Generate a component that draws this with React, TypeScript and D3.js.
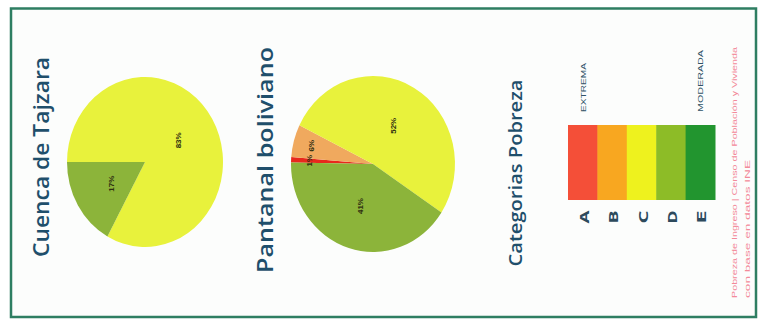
import React from "react";
import * as d3 from "d3";

// ---- data ----
const pieTitles = ["Cuenca de Tajzara", "Pantanal boliviano"];
const tajzaraCategories = ["C", "D"];
const tajzaraValues = [83, 17];
const pantanalCategories = ["A", "B", "C", "D"];
const pantanalValues = [1, 6, 52, 41];
const legendTitle = "Categorias Pobreza";
const legendCategories = ["A", "B", "C", "D", "E"];
const legendEnds = ["EXTREMA", "MODERADA"];
const footnoteLines = [
  "Pobreza de Ingreso | Censo de Población y Vivienda",
  "con base en datos INE",
];

const pieColors: Record<string, string> = {
  A: "#e8281c",
  B: "#f0a95e",
  C: "#e8f23c",
  D: "#8cb43a",
};
const legendColors: Record<string, string> = {
  A: "#f44f38",
  B: "#f8a720",
  C: "#eef21e",
  D: "#8dbc27",
  E: "#22952f",
};

const W = 765;
const H = 321;
const R = 80;
const FONT = "'Open Sans', 'Liberation Sans', Arial, sans-serif";
const TITLE_COLOR = "#1f4f6b";

type Datum = { c: string; v: number };

function Pie({
  cats,
  vals,
  cx,
  cy,
  rx,
  ry,
  start,
}: {
  cats: string[];
  vals: number[];
  cx: number;
  cy: number;
  rx: number;
  ry: number;
  start: number;
}) {
  const data: Datum[] = cats.map((c, i) => ({ c, v: vals[i] }));
  const pie = d3
    .pie<Datum>()
    .value((d) => d.v)
    .sort(null)
    .startAngle(start)
    .endAngle(start + 2 * Math.PI);
  const arcs = pie(data);
  const arc = d3.arc<d3.PieArcDatum<Datum>>().innerRadius(0).outerRadius(R);
  const sx = rx / R;
  const sy = ry / R;
  return (
    <g>
      <g transform={`translate(${cx},${cy}) scale(${sx},${sy})`}>
        {arcs.map((a) => (
          <path key={a.data.c} d={arc(a) || ""} fill={pieColors[a.data.c]} />
        ))}
      </g>
      {arcs.map((a) => {
        const frac = a.data.v < 10 ? 0.78 : 0.5;
        const lr = R * frac;
        const mid = (a.startAngle + a.endAngle) / 2;
        const px = cx + Math.sin(mid) * lr * sx;
        const py = cy - Math.cos(mid) * lr * sy;
        return (
          <text
            key={"l" + a.data.c}
            transform={`translate(${px},${py}) rotate(-90)`}
            textAnchor="middle"
            dominantBaseline="central"
            fontFamily="'Liberation Sans', Arial, sans-serif"
            fontWeight="bold"
            fontSize={8}
            fill="#2e2e10"
          >
            {`${a.data.v}%`}
          </text>
        );
      })}
    </g>
  );
}

function RotText({
  x,
  y,
  text,
  size,
  len,
  anchor = "middle",
  fill = TITLE_COLOR,
  weight = "normal",
  baseline,
  family = FONT,
}: {
  x: number;
  y: number;
  text: string;
  size: number;
  len?: number;
  anchor?: string;
  fill?: string;
  weight?: string | number;
  baseline?: string;
  family?: string;
}) {
  return (
    <text
      transform={`translate(${x},${y}) rotate(-90)`}
      textAnchor={anchor}
      dominantBaseline={baseline}
      fontFamily={family}
      fontSize={size}
      fontWeight={weight}
      fill={fill}
      textLength={len}
      lengthAdjust={len ? "spacingAndGlyphs" : undefined}
    >
      {text}
    </text>
  );
}

export default function App() {
  const band = d3.scaleBand<string>().domain(legendCategories).range([568, 715]).padding(0);
  return (
    <svg
      width={W}
      height={H}
      style={{ position: "absolute", left: 0, top: 0, background: "#ffffff" }}
    >
      <rect x={0} y={0} width={W} height={H} fill="#ffffff" />
      <rect
        x={11}
        y={8.5}
        width={745}
        height={308.5}
        fill="#fcfdfc"
        stroke="#2e7e62"
        strokeWidth={2.5}
      />

      {/* titles */}
      <RotText x={49} y={157} text={pieTitles[0]} size={22} len={200} weight={600} />
      <RotText x={273} y={160} text={pieTitles[1]} size={22} len={226} weight={600} />

      {/* pies */}
      <Pie
        cats={tajzaraCategories}
        vals={tajzaraValues}
        cx={145}
        cy={162}
        rx={78}
        ry={85}
        start={-Math.PI / 2}
      />
      <Pie
        cats={pantanalCategories}
        vals={pantanalValues}
        cx={373}
        cy={164}
        rx={82}
        ry={88}
        start={(-89 * Math.PI) / 180}
      />

      {/* legend */}
      <RotText x={522} y={173} text={legendTitle} size={18} len={187} weight={600} />
      {legendCategories.map((c) => (
        <rect
          key={c}
          x={band(c)!}
          y={125}
          width={band.bandwidth() + 0.5}
          height={75}
          fill={legendColors[c]}
        />
      ))}
      {legendCategories.map((c) => (
        <RotText
          key={"t" + c}
          x={band(c)! + band.bandwidth() / 2 + 1}
          y={217}
          text={c}
          size={13}
          len={13}
          weight="bold"
          baseline="central"
          fill="#2d4a5c"
        />
      ))}
      <RotText
        x={band(legendCategories[0])! + band.bandwidth() / 2 + 3}
        y={112}
        text={legendEnds[0]}
        size={7}
        len={49}
        anchor="start"
        fill="#2f5266"
        family="'Liberation Sans', Arial, sans-serif"
      />
      <RotText
        x={band(legendCategories[4])! + band.bandwidth() / 2 + 3}
        y={112}
        text={legendEnds[1]}
        size={7}
        len={62}
        anchor="start"
        fill="#2f5266"
        family="'Liberation Sans', Arial, sans-serif"
      />

      {/* footnote */}
      <RotText x={737} y={298} text={footnoteLines[0]} size={7.5} len={251} anchor="start" fill="#f38a99" family="'Liberation Sans', Arial, sans-serif" />
      <RotText x={750} y={298} text={footnoteLines[1]} size={7.5} len={138} anchor="start" fill="#f38a99" family="'Liberation Sans', Arial, sans-serif" />
    </svg>
  );
}
